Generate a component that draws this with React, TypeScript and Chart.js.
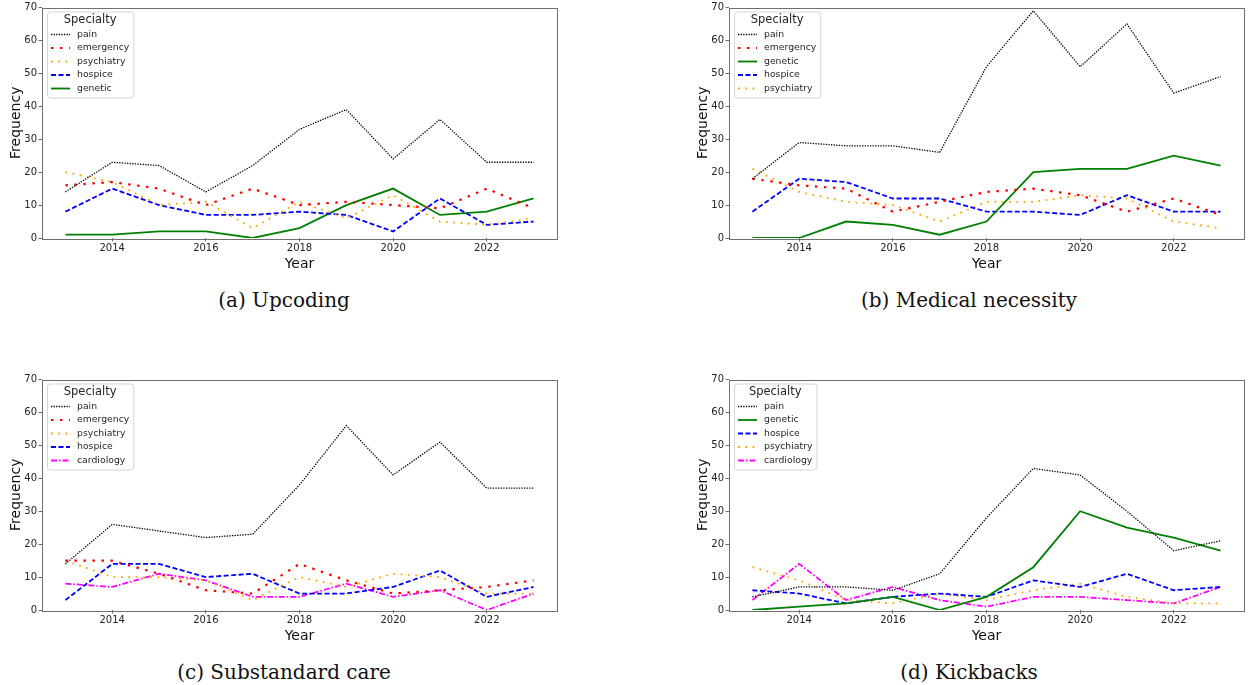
import React, { useEffect, useRef } from "react";
import { Chart, registerables } from "chart.js";

Chart.register(...registerables);

// ---------------- DATA ----------------
const years = [2013, 2014, 2015, 2016, 2017, 2018, 2019, 2020, 2021, 2022, 2023];
const xTickYears = [2014, 2016, 2018, 2020, 2022];
const yTickValues = [0, 10, 20, 30, 40, 50, 60, 70];

// (a) Upcoding
const upcodingPain = [14, 23, 22, 14, 22, 33, 39, 24, 36, 23, 23];
const upcodingEmergency = [16, 17, 15, 10, 15, 10, 11, 10, 9, 15, 9];
const upcodingPsychiatry = [20, 17, 10, 11, 3, 11, 6, 13, 5, 4, 6];
const upcodingHospice = [8, 15, 10, 7, 7, 8, 7, 2, 12, 4, 5];
const upcodingGenetic = [1, 1, 2, 2, 0, 3, 10, 15, 7, 8, 12];

// (b) Medical necessity
const necessityPain = [18, 29, 28, 28, 26, 52, 69, 52, 65, 44, 49];
const necessityEmergency = [18, 16, 15, 8, 11, 14, 15, 13, 8, 12, 7];
const necessityGenetic = [0, 0, 5, 4, 1, 5, 20, 21, 21, 25, 22];
const necessityHospice = [8, 18, 17, 12, 12, 8, 8, 7, 13, 8, 8];
const necessityPsychiatry = [21, 14, 11, 10, 5, 11, 11, 13, 12, 5, 3];

// (c) Substandard care
const substandardPain = [14, 26, 24, 22, 23, 38, 56, 41, 51, 37, 37];
const substandardEmergency = [15, 15, 11, 6, 5, 14, 9, 5, 6, 7, 9];
const substandardPsychiatry = [15, 10, 10, 9, 3, 10, 7, 11, 10, 5, 5];
const substandardHospice = [3, 14, 14, 10, 11, 5, 5, 7, 12, 4, 7];
const substandardCardiology = [8, 7, 11, 9, 4, 4, 8, 4, 6, 0, 5];

// (d) Kickbacks
const kickbacksPain = [4, 7, 7, 6, 11, 28, 43, 41, 30, 18, 21];
const kickbacksGenetic = [0, 1, 2, 4, 0, 4, 13, 30, 25, 22, 18];
const kickbacksHospice = [6, 5, 2, 4, 5, 4, 9, 7, 11, 6, 7];
const kickbacksPsychiatry = [13, 9, 3, 2, 5, 3, 6, 8, 4, 2, 2];
const kickbacksCardiology = [3, 14, 3, 7, 3, 1, 4, 4, 3, 2, 7];

const captions = ["(a) Upcoding", "(b) Medical necessity", "(c) Substandard care", "(d) Kickbacks"];

// ---------------- STYLES ----------------
type LineStyle = { color: string; width: number; dash: number[] };
const specialtyStyles: Record<string, LineStyle> = {
  pain: { color: "#000000", width: 1.3, dash: [1.3, 1.3] },
  emergency: { color: "#ff0000", width: 2.2, dash: [2.5, 6.5] },
  psychiatry: { color: "#ffa500", width: 1.8, dash: [1.8, 5.5] },
  hospice: { color: "#0000ff", width: 1.8, dash: [5, 2.5] },
  genetic: { color: "#008000", width: 1.8, dash: [] },
  cardiology: { color: "#ff00ff", width: 1.8, dash: [6, 2, 1.5, 2] },
};

type Series = { label: string; values: number[] };
const panels: { caption: string; series: Series[] }[] = [
  {
    caption: captions[0],
    series: [
      { label: "pain", values: upcodingPain },
      { label: "emergency", values: upcodingEmergency },
      { label: "psychiatry", values: upcodingPsychiatry },
      { label: "hospice", values: upcodingHospice },
      { label: "genetic", values: upcodingGenetic },
    ],
  },
  {
    caption: captions[1],
    series: [
      { label: "pain", values: necessityPain },
      { label: "emergency", values: necessityEmergency },
      { label: "genetic", values: necessityGenetic },
      { label: "hospice", values: necessityHospice },
      { label: "psychiatry", values: necessityPsychiatry },
    ],
  },
  {
    caption: captions[2],
    series: [
      { label: "pain", values: substandardPain },
      { label: "emergency", values: substandardEmergency },
      { label: "psychiatry", values: substandardPsychiatry },
      { label: "hospice", values: substandardHospice },
      { label: "cardiology", values: substandardCardiology },
    ],
  },
  {
    caption: captions[3],
    series: [
      { label: "pain", values: kickbacksPain },
      { label: "genetic", values: kickbacksGenetic },
      { label: "hospice", values: kickbacksHospice },
      { label: "psychiatry", values: kickbacksPsychiatry },
      { label: "cardiology", values: kickbacksCardiology },
    ],
  },
];

// ---------------- LAYOUT ----------------
const FONT = "'DejaVu Sans', sans-serif";
const CANVAS_W = 563;
const CANVAS_H = 280;
const panelPos = [
  { left: 0, top: 0, capX: 284, capY: 300 },
  { left: 687, top: 0, capX: 969, capY: 300 },
  { left: 0, top: 372, capX: 284, capY: 672 },
  { left: 687, top: 372, capX: 969, capY: 672 },
];

const framePlugin = {
  id: "frameAndLegend",
  afterDraw(chart: any) {
    const ctx: CanvasRenderingContext2D = chart.ctx;
    const ca = chart.chartArea;
    ctx.save();
    // full box frame (all four spines)
    ctx.strokeStyle = "#6e6e6e";
    ctx.lineWidth = 1;
    ctx.setLineDash([]);
    ctx.strokeRect(Math.round(ca.left) + 0.5, Math.round(ca.top) + 0.5, Math.round(ca.right - ca.left), Math.round(ca.bottom - ca.top));

    // legend
    const items = chart.data.datasets;
    const entryFont = `9.3px ${FONT}`;
    ctx.font = entryFont;
    let maxW = 0;
    for (const d of items) maxW = Math.max(maxW, ctx.measureText(d.label).width);
    const pad = 4, handle = 19, gap = 7, rowH = 13.5;
    const bx = ca.left + 5;
    const by = ca.top + 4;
    const bw = pad + handle + gap + maxW + pad;
    const bh = 9 + 14 + rowH * (items.length - 1) + 9;
    ctx.fillStyle = "rgba(255,255,255,0.85)";
    ctx.strokeStyle = "#d6d6d6";
    ctx.lineWidth = 1;
    ctx.beginPath();
    (ctx as any).roundRect(bx + 0.5, by + 0.5, bw, bh, 3);
    ctx.fill();
    ctx.stroke();

    ctx.fillStyle = "#262626";
    ctx.font = `11.5px ${FONT}`;
    ctx.textAlign = "center";
    ctx.textBaseline = "middle";
    ctx.fillText("Specialty", bx + bw / 2, by + 9);

    ctx.font = entryFont;
    ctx.textAlign = "left";
    items.forEach((d: any, i: number) => {
      const y = by + 23 + rowH * i;
      ctx.save();
      ctx.strokeStyle = d.borderColor;
      ctx.lineWidth = d.borderWidth;
      ctx.setLineDash(d.borderDash || []);
      ctx.beginPath();
      ctx.moveTo(bx + pad, y);
      ctx.lineTo(bx + pad + handle, y);
      ctx.stroke();
      ctx.restore();
      ctx.fillStyle = "#262626";
      ctx.fillText(d.label, bx + pad + handle + gap, y);
    });
    ctx.restore();
  },
};

function Panel({ idx }: { idx: number }) {
  const ref = useRef<HTMLCanvasElement | null>(null);
  const panel = panels[idx];
  const pos = panelPos[idx];

  useEffect(() => {
    if (!ref.current) return;
    const chart = new Chart(ref.current, {
      type: "line",
      data: {
        datasets: panel.series.map((s) => {
          const st = specialtyStyles[s.label];
          return {
            label: s.label,
            data: years.map((yr, i) => ({ x: yr, y: s.values[i] })),
            borderColor: st.color,
            backgroundColor: st.color,
            borderWidth: st.width,
            borderDash: st.dash,
            borderCapStyle: "butt",
            pointRadius: 0,
            pointHoverRadius: 0,
            tension: 0,
            fill: false,
          };
        }),
      },
      options: {
        responsive: false,
        animation: false,
        events: [],
        layout: { padding: { top: 7, right: 6, left: 0, bottom: 0 } },
        plugins: {
          legend: { display: false },
          tooltip: { enabled: false },
          title: { display: false },
        },
        scales: {
          x: {
            type: "linear",
            min: 2012.5,
            max: 2023.5,
            afterBuildTicks: (s: any) => {
              s.ticks = xTickYears.map((v) => ({ value: v }));
            },
            afterFit: (s: any) => {
              s.height = 42;
            },
            grid: { drawOnChartArea: false, drawTicks: true, tickLength: 3.5, tickColor: "#6e6e6e", tickWidth: 1 },
            border: { display: false },
            ticks: {
              autoSkip: false,
              maxRotation: 0,
              padding: 1,
              color: "#222",
              font: { family: FONT, size: 10 },
              callback: (v: any) => String(v),
            },
            title: {
              display: true,
              text: "Year",
              color: "#111",
              font: { family: FONT, size: 14, lineHeight: 1.2 },
              padding: { top: 0, bottom: 7.6 },
            },
          },
          y: {
            type: "linear",
            min: 0,
            max: 70,
            afterBuildTicks: (s: any) => {
              s.ticks = yTickValues.map((v) => ({ value: v }));
            },
            afterFit: (s: any) => {
              s.width = 42;
            },
            grid: { drawOnChartArea: false, drawTicks: true, tickLength: 3.5, tickColor: "#6e6e6e", tickWidth: 1 },
            border: { display: false },
            ticks: {
              autoSkip: false,
              padding: 1.5,
              color: "#222",
              font: { family: FONT, size: 10 },
              callback: (v: any) => String(v),
            },
            title: {
              display: true,
              text: "Frequency",
              color: "#111",
              font: { family: FONT, size: 14, lineHeight: 1.2 },
              padding: { top: 7.6, bottom: 0 },
            },
          },
        },
      },
      plugins: [framePlugin],
    } as any);
    return () => chart.destroy();
  }, [idx]);

  return (
    <>
      <canvas
        ref={ref}
        width={CANVAS_W}
        height={CANVAS_H}
        style={{ position: "absolute", left: pos.left, top: pos.top, width: CANVAS_W, height: CANVAS_H }}
      />
      <div
        style={{
          position: "absolute",
          left: pos.capX - 200,
          top: pos.capY - 14,
          width: 400,
          height: 28,
          lineHeight: "28px",
          textAlign: "center",
          fontFamily: "'DejaVu Serif', serif",
          fontSize: 20,
          color: "#111",
          whiteSpace: "nowrap",
        }}
      >
        {panel.caption}
      </div>
    </>
  );
}

export default function App() {
  return (
    <div style={{ position: "absolute", left: 0, top: 0, width: 1250, height: 685, background: "#fff", overflow: "hidden" }}>
      {panels.map((_, i) => (
        <Panel key={i} idx={i} />
      ))}
    </div>
  );
}
